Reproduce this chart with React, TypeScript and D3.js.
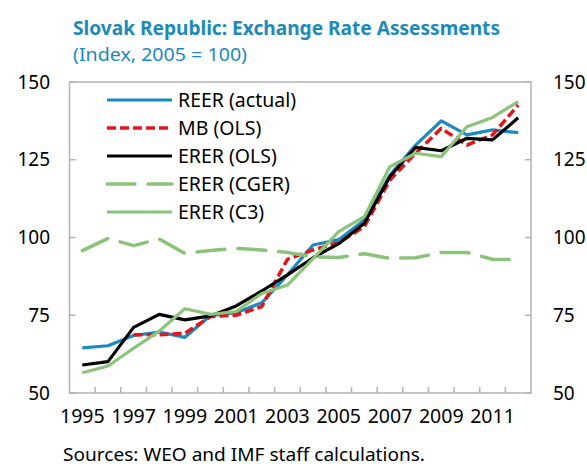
import React from "react";
import * as d3 from "d3";

const years = ["1995","1996","1997","1998","1999","2000","2001","2002","2003","2004","2005","2006","2007","2008","2009","2010","2011","2012"];
const yearLabels = ["1995","1997","1999","2001","2003","2005","2007","2009","2011"];
const yTicks = [50, 75, 100, 125, 150];

const reerActual = [64.5, 65.2, 68.5, 69.6, 67.9, 74.9, 75.8, 79, 88, 97.6, 99.3, 105.6, 120.1, 129.7, 137.5, 133, 134.6, 133.7];
const mbOls: (number | null)[] = [null, null, 68.7, 68.7, 69.2, 74.6, 75, 77.8, 93, 96, 98.3, 103.5, 118.5, 127.1, 135.1, 129.7, 133, 142.6];
const ererOls = [59, 60.1, 71.1, 75.3, 73.5, 74.8, 78, 82.8, 88, 93.5, 98, 104.6, 119.6, 129, 127.9, 131.9, 131.4, 138.5];
const ererCger = [95.8, 99.7, 97.4, 99.5, 94.9, 95.8, 96.5, 96, 95.2, 93.8, 93.6, 94.8, 93.3, 93.5, 95.2, 95.2, 93, 92.9];
const ererC3 = [56.5, 58.7, 64.4, 69.9, 77.1, 75.3, 76.2, 82, 84.7, 93.2, 101.9, 106.7, 122.8, 127.1, 126, 135.6, 138.6, 143.7];

const seriesNames = ["REER (actual)", "MB (OLS)", "ERER (OLS)", "ERER (CGER)", "ERER (C3)"];
const seriesData = [reerActual, mbOls, ererOls, ererCger, ererC3];
const seriesColors = ["#1a8bc0", "#e8141b", "#000000", "#8cc37a", "#8cc37a"];
const seriesDash = ["", "9,4", "", "28,13", ""];
const seriesWidth = [3.2, 3.5, 3.2, 3.5, 3.2];
const seriesCap = ["butt", "butt", "butt", "round", "butt"];

const FONT = "'Noto Sans', sans-serif";

export default function App() {
  const W = 587, H = 466;
  const left = 69.5, right = 531, top = 82, bottom = 393;
  const x = d3.scaleBand<string>().domain(years).range([left, right]);
  const cx = (yr: string) => (x(yr) as number) + x.bandwidth() / 2;
  const y = d3.scaleLinear().domain([50, 150]).range([bottom, top]);
  const axisColor = "#b3b3b3";

  const lineGen = d3
    .line<number | null>()
    .defined((d) => d != null)
    .x((_, i) => cx(years[i]))
    .y((d) => y(d as number));

  const legendX1 = 107, legendX2 = 172, legendY0 = 100, legendStep = 28;

  return (
    <svg width={W} height={H} style={{ position: "absolute", left: 0, top: 0, background: "#fff" }} fontFamily={FONT}>
      <rect width={W} height={H} fill="#fff" />
      <text x={73} y={35} fill="#1b8abd" fontWeight="bold" fontSize={19.5} textLength={427} lengthAdjust="spacingAndGlyphs">
        Slovak Republic: Exchange Rate Assessments
      </text>
      <text x={73} y={61} fill="#1b8abd" fontSize={18.5} textLength={174} lengthAdjust="spacingAndGlyphs">
        (Index, 2005 = 100)
      </text>

      {/* frame */}
      <rect x={left} y={top} width={right - left} height={bottom - top} fill="none" stroke={axisColor} strokeWidth={1.5} />

      {/* y ticks */}
      {yTicks.map((t) => (
        <g key={"yt" + t}>
          <line x1={left} x2={left + 6} y1={y(t)} y2={y(t)} stroke={axisColor} strokeWidth={1.5} />
          <line x1={right - 6} x2={right} y1={y(t)} y2={y(t)} stroke={axisColor} strokeWidth={1.5} />
          <text x={50} y={y(t)} dy="0.35em" textAnchor="end" fontSize={19} fill="#000">{t}</text>
          <text x={553} y={y(t)} dy="0.35em" textAnchor="start" fontSize={19} fill="#000">{t}</text>
        </g>
      ))}

      {/* x ticks between categories */}
      {years.slice(1).map((yr) => (
        <line key={"xt" + yr} x1={x(yr) as number} x2={x(yr) as number} y1={bottom} y2={bottom - 6} stroke={axisColor} strokeWidth={1.5} />
      ))}
      {yearLabels.map((yr) => (
        <text key={"xl" + yr} x={cx(yr)} y={423} textAnchor="middle" fontSize={19.5} fill="#000">{yr}</text>
      ))}

      {/* series */}
      {seriesData.map((s, i) => (
        <path
          key={"s" + i}
          d={lineGen(s as (number | null)[]) || ""}
          fill="none"
          stroke={seriesColors[i]}
          strokeWidth={seriesWidth[i]}
          strokeDasharray={seriesDash[i] || undefined}
          strokeLinecap={seriesCap[i] as any}
          strokeLinejoin="round"
        />
      ))}

      {/* legend */}
      {seriesNames.map((n, i) => (
        <g key={"lg" + i}>
          <line
            x1={legendX1}
            x2={legendX2}
            y1={legendY0 + i * legendStep}
            y2={legendY0 + i * legendStep}
            stroke={seriesColors[i]}
            strokeWidth={seriesWidth[i]}
            strokeDasharray={seriesDash[i] || undefined}
            strokeLinecap={seriesCap[i] as any}
          />
          <text x={178} y={legendY0 + i * legendStep} dy="0.35em" fontSize={19.5} fill="#000">{n}</text>
        </g>
      ))}

      <text x={63} y={461} fontSize={18} fill="#000" textLength={362} lengthAdjust="spacingAndGlyphs">
        Sources: WEO and IMF staff calculations.
      </text>
    </svg>
  );
}
